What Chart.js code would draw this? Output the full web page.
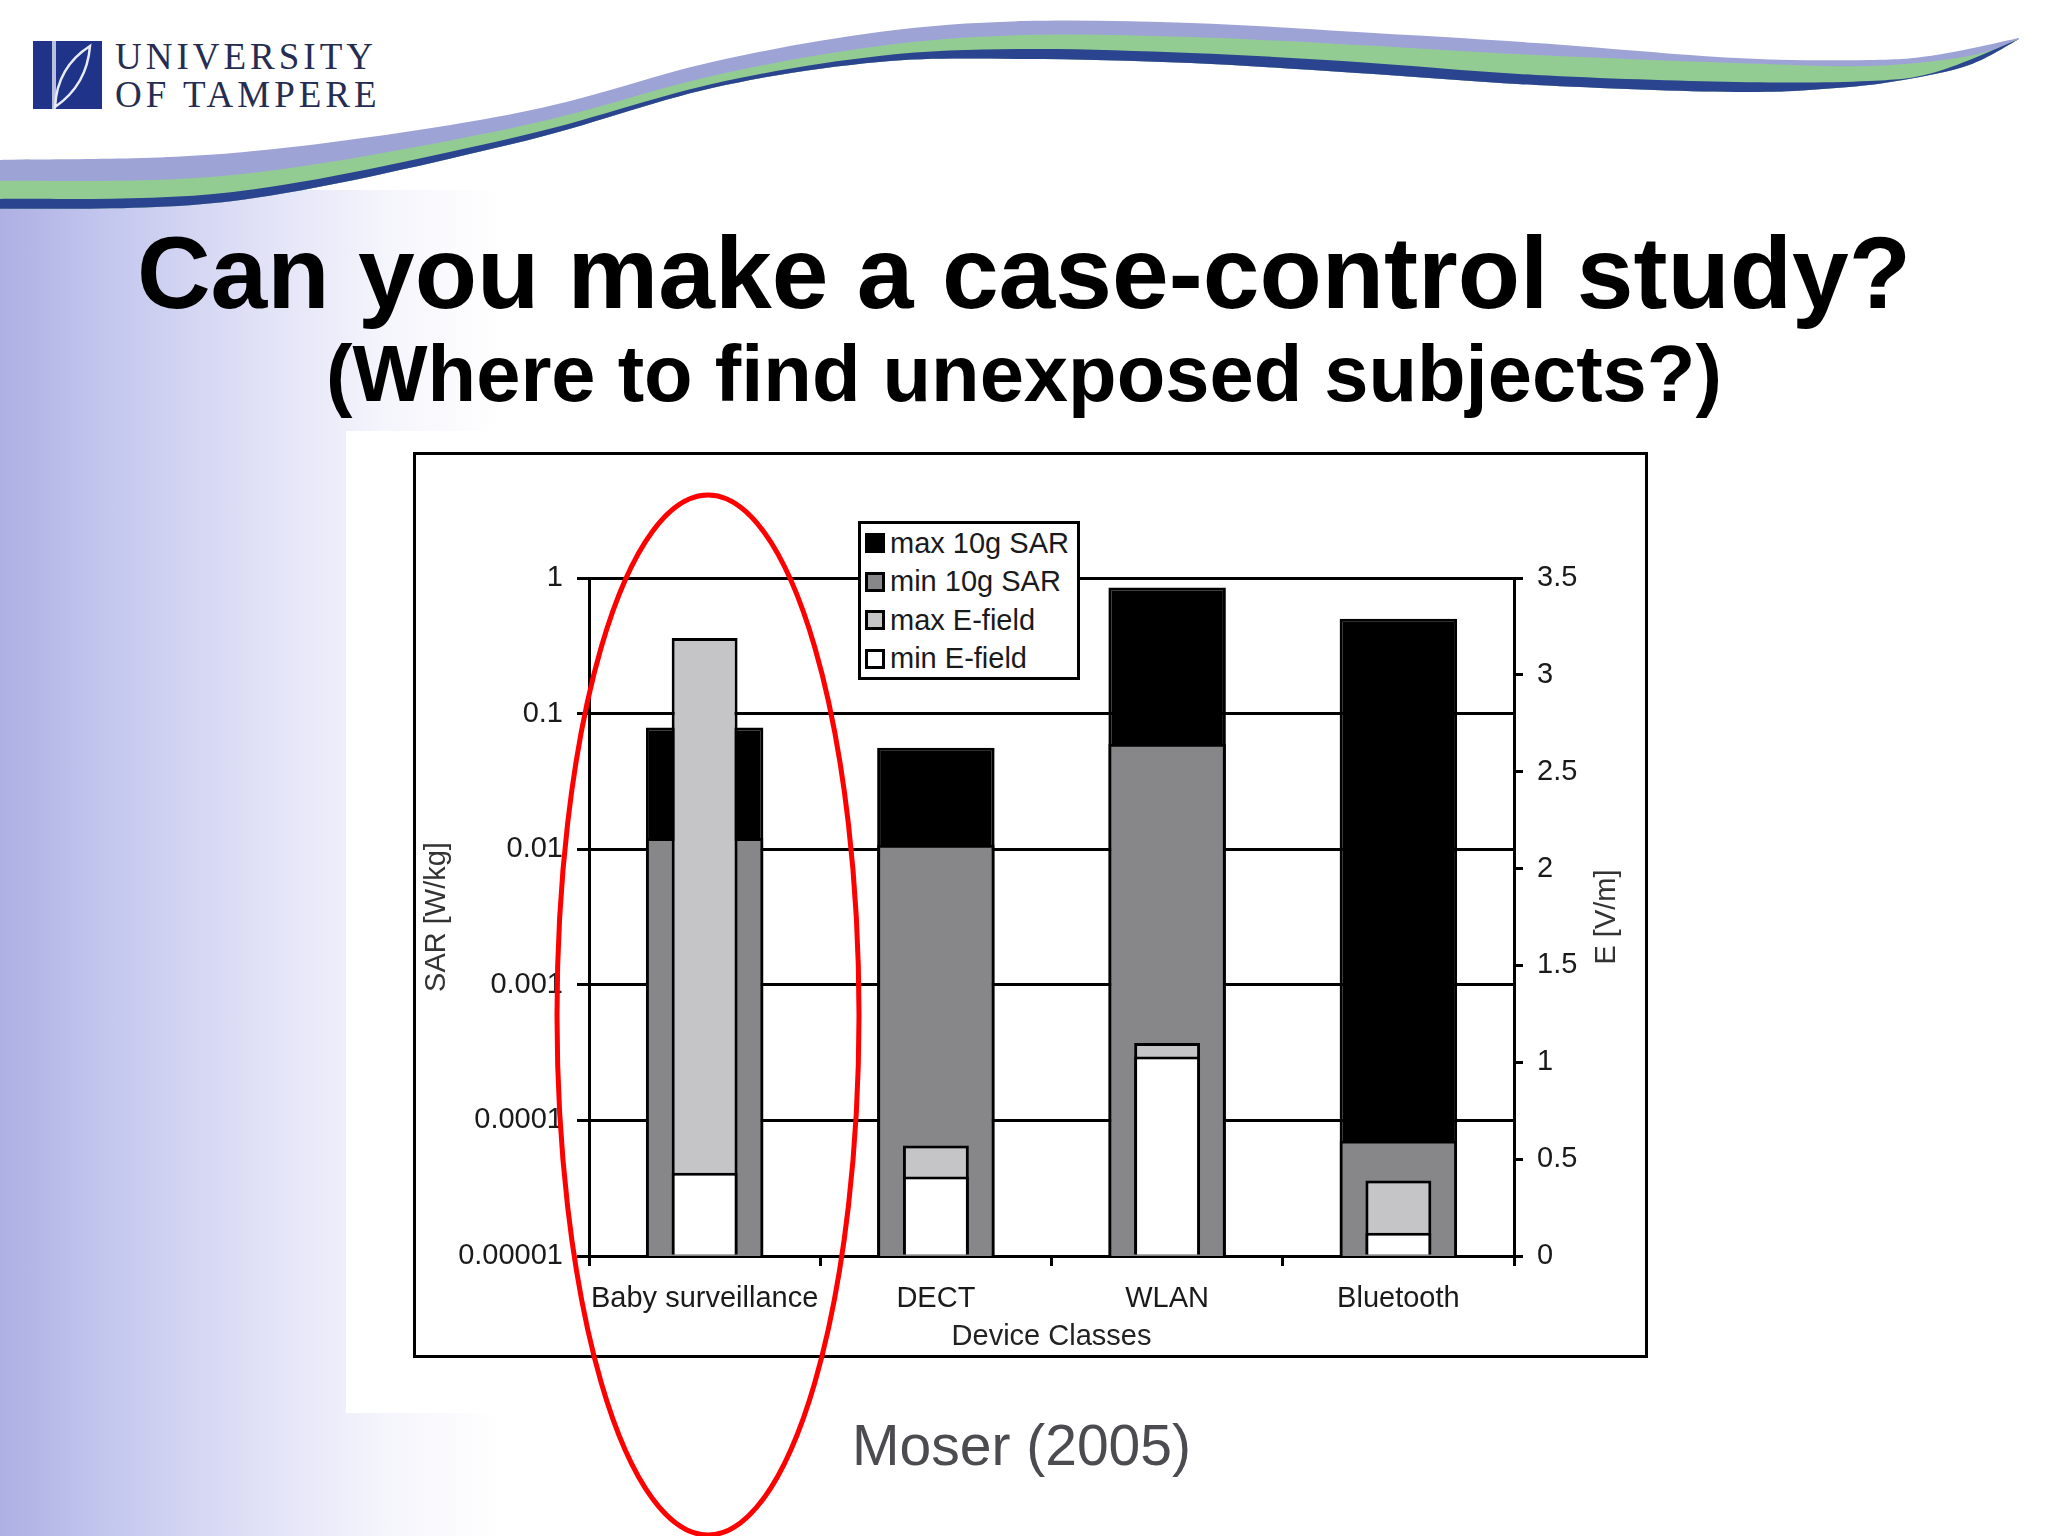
<!DOCTYPE html>
<html>
<head>
<meta charset="utf-8">
<script src="https://cdn.jsdelivr.net/npm/chart.js@4.4.1/dist/chart.umd.min.js"></script>
<style>
  html, body { margin: 0; padding: 0; }
  body { width: 2048px; height: 1536px; position: relative; overflow: hidden; background: #fff;
         font-family: 'Liberation Sans', Arial, sans-serif; }
  #bg { position: absolute; left: 0; top: 190px; width: 2048px; height: 1346px;
        background: linear-gradient(to right, #adb0e2 0px, #c4c7ee 110px, #dfe0f6 250px, #f4f4fc 380px, #ffffff 500px); }
  #wave { position: absolute; left: 0; top: 0; }
  #logo { position: absolute; left: 33px; top: 41px; }
  .uni { position: absolute; left: 115px; font-family: 'Liberation Serif', 'Times New Roman', serif;
         font-size: 37px; line-height: 37px; color: #262d52; letter-spacing: 4px; }
  .title { position: absolute; left: 0; width: 2048px; text-align: center; font-weight: bold; color: #000; line-height: 1.15; }
  #figbox { position: absolute; left: 346px; top: 431px; width: 1400px; height: 982px; background: #fff; }
  #frame { position: absolute; left: 413px; top: 452px; width: 1235px; height: 906px;
           border: 3px solid #000; box-sizing: border-box; background: #fff; }
  #wrap { position: absolute; left: 0; top: 0; width: 1229px; height: 900px; }
  #legend { position: absolute; left: 442px; top: 66px; width: 222px; height: 159px; box-sizing: border-box;
            border: 3px solid #000; background: #fff; padding: 0 0 0 4px; }
  .item { display: flex; align-items: center; height: 38.5px; font-size: 29px; color: #1a1a1a; white-space: nowrap; }
  .sw { width: 14px; height: 14px; border: 3px solid #000; margin-right: 5px; flex: none; }
  #caption { position: absolute; left: 852px; top: 1413px; font-size: 57px; line-height: 1.15; color: #4b4b50; }
  #marks { position: absolute; left: 0; top: 0; pointer-events: none; }
</style>
</head>
<body>
<div id="bg"></div>
<svg id="wave" width="2048" height="240"></svg>

<svg id="logo" width="69" height="68">
  <rect x="0" y="0" width="69" height="68" fill="#1f3388"/>
  <rect x="19" y="0" width="4" height="68" fill="#b9bfdc"/>
  <path d="M22,66 Q24,26 57,5 Q54,44 22,66 Z" fill="none" stroke="#e8ebf6" stroke-width="2.5"/>
</svg>
<div class="uni" style="top:38px">UNIVERSITY</div>
<div class="uni" style="top:76px">OF TAMPERE</div>

<div class="title" style="top:215px; font-size:102px;">Can you make a case-control study?</div>
<div class="title" style="top:328px; font-size:79.5px;">(Where to find unexposed subjects?)</div>

<div id="figbox"></div>
<div id="frame">
  <div id="wrap"><canvas id="chart"></canvas></div>
  <div id="legend"></div>
</div>

<div id="caption">Moser (2005)</div>

<svg id="marks" width="2048" height="1536">
  <ellipse cx="708" cy="1015" rx="151" ry="520" fill="none" stroke="#ff0000" stroke-width="5"/>
</svg>

<script>
const categories = ['Baby surveillance', 'DECT', 'WLAN', 'Bluetooth'];
const maxSar = [0.079, 0.056, 0.85, 0.50];        // W/kg, left log axis
const minSar = [0.0121, 0.0108, 0.060, 0.000071];
const maxE = [3.19, 0.57, 1.10, 0.39];            // V/m, right linear axis
const minE = [0.43, 0.41, 1.03, 0.12];

const sarTicks = [0.00001, 0.0001, 0.001, 0.01, 0.1, 1];
const sarTickLabels = ['0.00001', '0.0001', '0.001', '0.01', '0.1', '1'];
const eTicks = [0, 0.5, 1, 1.5, 2, 2.5, 3, 3.5];
const eTickLabels = ['0', '0.5', '1', '1.5', '2', '2.5', '3', '3.5'];

// header swoosh
function smooth(pts, start) {
    let d = (start ? 'M' : 'L') + pts[0][0] + ',' + pts[0][1];
    for (let i = 0; i < pts.length - 1; i++) {
        const p0 = pts[i - 1] || pts[i], p1 = pts[i], p2 = pts[i + 1], p3 = pts[i + 2] || p2;
        const c1 = [p1[0] + (p2[0] - p0[0]) / 6, p1[1] + (p2[1] - p0[1]) / 6];
        const c2 = [p2[0] - (p3[0] - p1[0]) / 6, p2[1] - (p3[1] - p1[1]) / 6];
        d += ' C' + c1.join(',') + ' ' + c2.join(',') + ' ' + p2.join(',');
    }
    return d;
}
const edgeTop = [[-5,160],[233,153],[512,114],[712,62],[879,32],[1024,21],[1191,23],[1357,32],[1536,43],[1736,58],[1869,60],[1936,55],[2019,38]];
const edgeMid = [[-5,181],[233,175],[512,128],[712,76],[879,46],[1024,35],[1191,37],[1357,45],[1536,55],[1736,63],[1869,66],[1969,56],[2019,39]];
const edgeLow = [[-5,199],[233,192],[512,138],[712,84],[879,56],[1024,49],[1191,53],[1357,62],[1536,75],[1736,82],[1869,81],[1936,72],[2019,39]];
const edgeBot = [[-5,209],[233,201],[512,144],[712,88],[879,62],[1024,59],[1191,63],[1357,73],[1536,85],[1736,92],[1836,88],[1903,80],[1969,65],[2019,39]];
const backPath = smooth(edgeBot.slice().reverse(), false) + ' Z';
const wave = document.getElementById('wave');
[[edgeTop, '#9ea3d6'], [edgeMid, '#93cc93'], [edgeLow, '#2b448f']].forEach(([edge, col]) => {
    const p = document.createElementNS('http://www.w3.org/2000/svg', 'path');
    p.setAttribute('d', smooth(edge, true) + ' ' + backPath);
    p.setAttribute('fill', col);
    wave.appendChild(p);
});

Chart.defaults.font.family = "'Liberation Sans', Arial, sans-serif";
Chart.defaults.font.size = 29;
Chart.defaults.color = '#1a1a1a';

// right axis title reads bottom-to-top like the left one
const rightTitle = {
    id: 'rightTitle',
    afterDraw(chart) {
        const s = chart.scales.y2;
        const ctx = chart.ctx;
        ctx.save();
        ctx.translate(s.right - 21.4, (chart.chartArea.top + chart.chartArea.bottom) / 2);
        ctx.rotate(-Math.PI / 2);
        ctx.font = "29px 'Liberation Sans', Arial, sans-serif";
        ctx.fillStyle = '#333';
        ctx.textAlign = 'center';
        ctx.textBaseline = 'middle';
        ctx.fillText('E [V/m]', 0, 0);
        ctx.restore();
    }
};

const ctx = document.getElementById('chart').getContext('2d');
const chart = new Chart(ctx, {
    type: 'bar',
    data: {
        labels: categories,
        datasets: [
            {
                label: 'max 10g SAR', data: maxSar, yAxisID: 'y', order: 4,
                backgroundColor: '#000000', borderColor: '#000000', borderWidth: 3,
                grouped: false, barPercentage: 0.508, categoryPercentage: 1
            },
            {
                label: 'min 10g SAR', data: minSar, yAxisID: 'y', order: 3,
                backgroundColor: '#878689', borderColor: '#000000', borderWidth: 3,
                grouped: false, barPercentage: 0.508, categoryPercentage: 1
            },
            {
                label: 'max E-field', data: maxE, yAxisID: 'y2', order: 2,
                backgroundColor: '#c5c5c8', borderColor: '#000000', borderWidth: 3,
                grouped: false, barPercentage: 0.285, categoryPercentage: 1
            },
            {
                label: 'min E-field', data: minE, yAxisID: 'y2', order: 1,
                backgroundColor: '#ffffff', borderColor: '#000000', borderWidth: 3,
                grouped: false, barPercentage: 0.285, categoryPercentage: 1
            }
        ]
    },
    options: {
        responsive: true,
        maintainAspectRatio: false,
        animation: false,
        layout: { padding: { top: 123, right: 17, left: 0, bottom: 0 } },
        plugins: { legend: { display: false }, tooltip: { enabled: false } },
        scales: {
            x: {
                offset: true,
                grid: { offset: true, drawOnChartArea: false, tickLength: 10, color: '#000', lineWidth: 3 },
                border: { color: '#000', width: 3 },
                ticks: { padding: 16, maxRotation: 0, autoSkip: false },
                title: { display: true, text: 'Device Classes', color: '#222', padding: { top: 4, bottom: 1 } },
                afterFit(scale) { scale.height = 99; }
            },
            y: {
                type: 'logarithmic',
                position: 'left',
                min: 0.00001,
                max: 1,
                afterBuildTicks(scale) { scale.ticks = sarTicks.map(v => ({ value: v })); },
                ticks: { padding: 14, callback: (v, i) => sarTickLabels[i] },
                grid: { color: '#000', lineWidth: 3, tickLength: 12 },
                border: { color: '#000', width: 3 },
                title: { display: true, text: 'SAR [W/kg]', color: '#333' },
                afterFit(scale) { scale.width = 173; }
            },
            y2: {
                type: 'linear',
                position: 'right',
                min: 0,
                max: 3.5,
                afterBuildTicks(scale) { scale.ticks = eTicks.map(v => ({ value: v })); },
                ticks: { padding: 14, callback: (v, i) => eTickLabels[i] },
                grid: { drawOnChartArea: false, color: '#000', lineWidth: 3, tickLength: 9 },
                border: { color: '#000', width: 3 },
                afterFit(scale) { scale.width = 114; }
            }
        }
    },
    plugins: [rightTitle]
});

// legend box sits inside the plot, built from the datasets
const legend = document.getElementById('legend');
chart.data.datasets.forEach(ds => {
    const item = document.createElement('div');
    item.className = 'item';
    const sw = document.createElement('span');
    sw.className = 'sw';
    sw.style.background = ds.backgroundColor;
    item.appendChild(sw);
    item.appendChild(document.createTextNode(ds.label));
    legend.appendChild(item);
});
</script>
</body>
</html>
